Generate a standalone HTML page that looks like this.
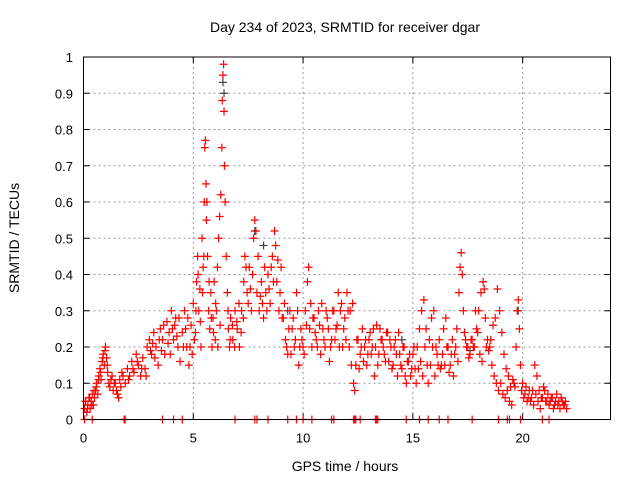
<!DOCTYPE html>
<html><head><meta charset="utf-8"><style>
body{margin:0;background:#fff;}
svg{display:block;font-family:"Liberation Sans",sans-serif;}
</style></head><body>
<svg id="c" width="640" height="480">
<text x="345" y="32" font-size="14" text-anchor="middle">Day 234 of 2023, SRMTID for receiver dgar</text>
<text x="345" y="471" font-size="14" text-anchor="middle">GPS time / hours</text>
<text transform="translate(19,238) rotate(-90)" font-size="14" text-anchor="middle">SRMTID / TECUs</text>
<g id="grid"></g><g id="pts"></g>
<rect x="83.5" y="57" width="527" height="362.5" fill="none" stroke="#000"/>
</svg>
<script>
const xTicks=[0,5,10,15,20];
const yTicks=[0,0.1,0.2,0.3,0.4,0.5,0.6,0.7,0.8,0.9,1];
const yLabels=["0","0.1","0.2","0.3","0.4","0.5","0.6","0.7","0.8","0.9","1"];
const redT=[0.05,0.1,0.15,0.2,0.25,0.3,0.35,0.4,0.45,0.5,0.55,0.6,0.65,0.7,0.75,0.8,0.85,0.9,0.95,1.0,1.05,1.1,1.15,1.2,1.3,1.4,1.5,1.6,1.7,1.8,1.9,2.0,2.1,2.2,2.3,2.4,2.5,2.6,2.7,2.8,2.9,3.0,3.1,3.2,3.3,3.4,3.5,3.6,3.7,3.8,3.9,4.0,4.1,4.2,4.3,4.4,4.5,4.6,4.7,4.8,4.9,5.0,5.1,5.15,5.2,5.25,5.3,5.35,5.4,5.45,5.5,5.52,5.55,5.58,5.6,5.65,5.7,5.75,5.8,5.85,5.9,5.95,6.0,6.05,6.1,6.15,6.2,6.25,6.3,6.32,6.35,6.38,6.4,6.42,6.45,6.5,6.55,6.6,6.65,6.7,6.8,6.9,7.0,7.1,7.2,7.3,7.35,7.4,7.5,7.6,7.7,7.75,7.8,7.85,7.9,8.0,8.1,8.2,8.3,8.4,8.5,8.6,8.7,8.75,8.8,8.9,9.0,9.1,9.2,9.3,9.4,9.5,9.6,9.7,9.8,9.9,10.0,10.1,10.2,10.25,10.3,10.4,10.5,10.6,10.7,10.8,10.9,11.0,11.1,11.2,11.3,11.4,11.5,11.6,11.7,11.8,11.9,12.0,12.05,12.1,12.2,12.3,12.35,12.4,12.5,12.6,12.7,12.8,12.9,13.0,13.1,13.2,13.3,13.4,13.5,13.6,13.7,13.8,13.9,14.0,14.1,14.2,14.3,14.4,14.5,14.6,14.7,14.8,14.9,15.0,15.1,15.2,15.3,15.4,15.5,15.6,15.7,15.8,15.9,16.0,16.1,16.2,16.3,16.4,16.5,16.6,16.7,16.8,16.9,17.0,17.1,17.15,17.2,17.25,17.3,17.4,17.5,17.6,17.7,17.8,17.9,18.0,18.1,18.2,18.25,18.3,18.4,18.5,18.6,18.7,18.8,18.9,19.0,19.1,19.2,19.3,19.4,19.5,19.6,19.7,19.75,19.8,19.85,19.9,20.0,20.1,20.2,20.3,20.4,20.5,20.6,20.7,20.8,20.9,21.0,21.1,21.2,21.3,21.4,21.5,21.6,21.7,21.8,21.9,22.0];
const redV=[0.03,0.05,0.02,0.04,0.06,0.03,0.05,0.07,0.04,0.06,0.08,0.1,0.07,0.12,0.14,0.11,0.16,0.18,0.15,0.2,0.17,0.13,0.1,0.09,0.12,0.1,0.08,0.06,0.09,0.12,0.1,0.14,0.12,0.16,0.13,0.18,0.15,0.12,0.17,0.14,0.2,0.22,0.18,0.24,0.2,0.15,0.25,0.22,0.18,0.27,0.24,0.3,0.22,0.28,0.2,0.16,0.24,0.3,0.2,0.15,0.26,0.32,0.24,0.38,0.45,0.3,0.36,0.2,0.5,0.42,0.6,0.75,0.77,0.65,0.55,0.45,0.3,0.25,0.35,0.2,0.28,0.38,0.22,0.3,0.42,0.5,0.56,0.62,0.75,0.88,0.95,0.98,0.85,0.7,0.6,0.45,0.35,0.25,0.2,0.28,0.22,0.3,0.25,0.2,0.3,0.38,0.45,0.42,0.32,0.36,0.4,0.5,0.55,0.52,0.35,0.3,0.38,0.28,0.35,0.4,0.32,0.45,0.52,0.48,0.38,0.3,0.42,0.28,0.22,0.18,0.3,0.25,0.2,0.35,0.15,0.25,0.2,0.3,0.38,0.42,0.25,0.2,0.28,0.22,0.3,0.18,0.25,0.2,0.28,0.16,0.22,0.3,0.25,0.35,0.3,0.2,0.28,0.35,0.3,0.2,0.15,0.1,0.08,0.15,0.22,0.18,0.25,0.2,0.15,0.22,0.18,0.25,0.2,0.15,0.25,0.22,0.18,0.24,0.16,0.2,0.15,0.22,0.12,0.18,0.14,0.2,0.1,0.16,0.12,0.18,0.14,0.2,0.25,0.3,0.33,0.25,0.1,0.15,0.2,0.12,0.18,0.22,0.15,0.25,0.28,0.2,0.15,0.22,0.18,0.25,0.35,0.42,0.46,0.4,0.3,0.22,0.2,0.18,0.22,0.2,0.25,0.3,0.35,0.38,0.36,0.28,0.22,0.2,0.15,0.12,0.1,0.08,0.1,0.07,0.06,0.08,0.05,0.04,0.1,0.2,0.3,0.33,0.25,0.15,0.1,0.07,0.05,0.08,0.06,0.04,0.07,0.05,0.03,0.06,0.08,0.05,0.04,0.06,0.03,0.05,0.04,0.03,0.05,0.04,0.03];
const red2T=[0.08,0.18,0.28,0.38,0.48,0.58,0.68,0.78,0.88,0.98,1.08,1.25,1.35,1.45,1.55,1.65,1.75,2.05,2.25,2.45,2.65,2.85,3.05,3.15,3.25,3.45,3.55,3.65,3.85,3.95,4.05,4.15,4.25,4.35,4.55,4.65,4.75,4.85,4.95,5.05,5.12,5.22,5.32,5.42,5.48,5.62,5.72,5.82,5.92,6.02,6.12,6.22,6.58,6.68,6.78,6.88,6.98,7.08,7.18,7.28,7.45,7.55,7.65,7.95,8.05,8.15,8.25,8.35,8.45,8.55,8.65,8.85,8.95,9.05,9.15,9.25,9.35,9.45,9.55,9.65,9.75,9.85,9.95,10.05,10.15,10.35,10.45,10.55,10.65,10.75,10.85,10.95,11.05,11.15,11.25,11.35,11.45,11.55,11.65,11.75,11.85,11.95,12.15,12.25,12.45,12.55,12.65,12.75,12.85,12.95,13.05,13.15,13.25,13.35,13.45,13.55,13.65,13.75,13.85,13.95,14.05,14.15,14.25,14.35,14.45,14.55,14.65,14.75,14.85,14.95,15.05,15.15,15.25,15.35,15.45,15.55,15.65,15.75,15.85,15.95,16.05,16.15,16.25,16.35,16.45,16.55,16.65,16.75,16.85,16.95,17.05,17.35,17.45,17.55,17.65,17.75,17.85,17.95,18.05,18.15,18.35,18.45,18.55,18.65,18.75,18.85,18.95,19.05,19.15,19.25,19.35,19.45,19.55,19.65,19.95,20.05,20.15,20.25,20.35,20.45,20.55,20.65,20.75,20.85,20.95,21.05,21.15,21.25,21.35,21.45,21.55,21.65,21.75,21.85,21.95];
const red2V=[0.05,0.03,0.06,0.04,0.08,0.09,0.11,0.13,0.17,0.19,0.15,0.11,0.08,0.1,0.07,0.11,0.13,0.11,0.14,0.16,0.14,0.12,0.19,0.21,0.17,0.22,0.19,0.26,0.21,0.18,0.25,0.26,0.23,0.28,0.2,0.25,0.28,0.2,0.18,0.22,0.3,0.4,0.27,0.35,0.45,0.6,0.38,0.28,0.24,0.32,0.2,0.26,0.3,0.22,0.26,0.2,0.27,0.32,0.24,0.28,0.35,0.42,0.3,0.45,0.34,0.32,0.42,0.3,0.36,0.42,0.38,0.44,0.35,0.28,0.32,0.2,0.25,0.18,0.28,0.22,0.3,0.2,0.22,0.18,0.26,0.32,0.28,0.24,0.2,0.26,0.32,0.22,0.3,0.25,0.2,0.3,0.22,0.26,0.2,0.32,0.25,0.22,0.3,0.32,0.22,0.14,0.2,0.16,0.22,0.18,0.24,0.2,0.12,0.26,0.18,0.22,0.2,0.16,0.24,0.22,0.14,0.2,0.18,0.24,0.15,0.2,0.12,0.16,0.18,0.14,0.2,0.1,0.14,0.16,0.12,0.2,0.15,0.22,0.28,0.3,0.2,0.15,0.14,0.18,0.15,0.2,0.13,0.18,0.12,0.2,0.16,0.24,0.2,0.17,0.22,0.2,0.3,0.24,0.18,0.16,0.2,0.19,0.22,0.26,0.28,0.36,0.3,0.24,0.18,0.14,0.12,0.09,0.11,0.09,0.08,0.06,0.09,0.06,0.05,0.08,0.15,0.12,0.08,0.06,0.09,0.05,0.07,0.05,0.06,0.04,0.07,0.05,0.06,0.04,0.05,0.04,0.06,0.03,0.04,0.05,0.03,0.04,0.05,0.04];
const zeroT=[0.05,0.4,1.85,1.9,3.6,4.1,4.5,6.9,7.8,7.9,8.4,9.3,9.7,10.0,10.4,11.3,11.4,12.3,12.35,12.4,12.6,13.3,13.35,13.4,14.7,15.3,15.7,16.2,16.6,17.7,18.9,19.3,19.4,19.9,20.9,21.2];
const grayT=[6.35,6.4,7.8,8.2,9.3,14.5,17.6,19.8,21.0];
const grayV=[0.93,0.9,0.52,0.48,0.3,0.22,0.19,0.3,0.08];
const X0=83.5,X1=610.5,Y0=419.5,Y1=57;
const xs=t=>X0+t/24*(X1-X0);
const ys=v=>Y0-v*(Y0-Y1);
const NS="http://www.w3.org/2000/svg";
const grid=document.getElementById('grid'),pts=document.getElementById('pts');
function mk(tag,a,p){const e=document.createElementNS(NS,tag);for(const k in a)e.setAttribute(k,a[k]);p.appendChild(e);return e;}
xTicks.forEach(t=>{const x=xs(t);
 if(t>0){const l=mk('line',{x1:x,x2:x,y1:Y1,y2:Y0,stroke:'#999','stroke-dasharray':'2,3'},grid);
 
 }
 mk('line',{x1:x,x2:x,y1:Y0,y2:Y0-6,stroke:'#000'},grid);
 mk('line',{x1:x,x2:x,y1:Y1,y2:Y1+6,stroke:'#000'},grid);
 const tx=mk('text',{x:x,y:Y0+23,'font-size':13,'text-anchor':'middle'},grid);tx.textContent=t;
 
 });
yTicks.forEach((v,i)=>{const y=ys(v);
 if(v>0&&v<1){const l=mk('line',{x1:X0,x2:X1,y1:y,y2:y,stroke:'#999','stroke-dasharray':'2,3'},grid);
 
 }
 mk('line',{x1:X0,x2:X0+6,y1:y,y2:y,stroke:'#000'},grid);
 mk('line',{x1:X1,x2:X1-6,y1:y,y2:y,stroke:'#000'},grid);
 const tx=mk('text',{x:73,y:y+5,'font-size':13,'text-anchor':'end'},grid);tx.textContent=yLabels[i];
 
 });
function plus(t,v,c,name){const x=xs(t),y=ys(v);
 const p=mk('path',{d:`M${x-4},${y}h8M${x},${y-4}v8`,stroke:c,'stroke-width':1.2,fill:'none'},pts);
 
 }
grayT.forEach((t,i)=>plus(t,grayV[i],'#444','gray-point'));
redT.forEach((t,i)=>plus(t,redV[i],'#f00','red-point'));
red2T.forEach((t,i)=>plus(t,red2V[i],'#f00','red-point'));
zeroT.forEach(t=>plus(t,0,'#f00','zero-point'));
</script>
</body></html>
